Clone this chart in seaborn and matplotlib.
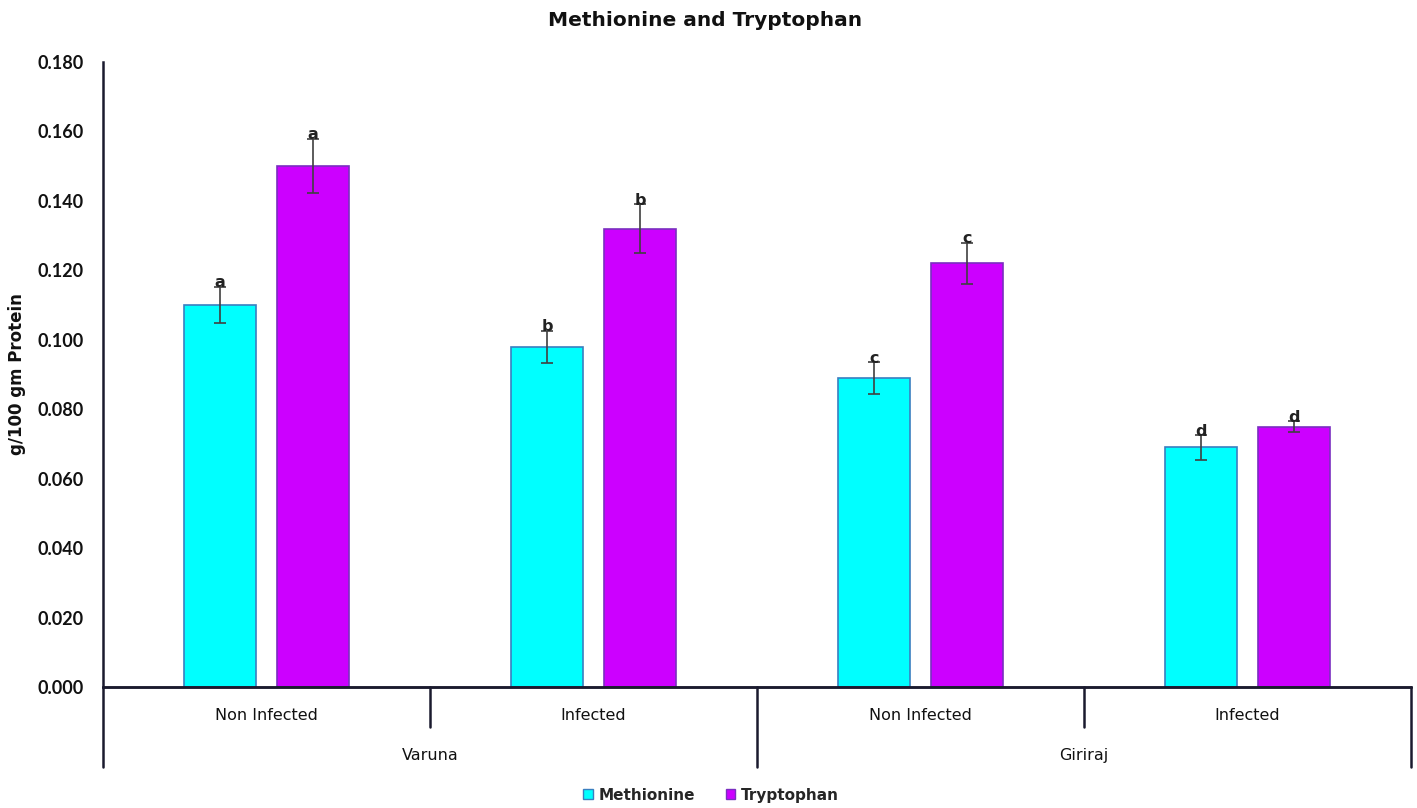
import pandas as pd
import matplotlib.pyplot as plt
import matplotlib.transforms as mtransforms
import seaborn as sns

# === Data ===
varieties = ["Varuna", "Giriraj"]
conditions = ["Non Infected", "Infected", "Non Infected", "Infected"]
group_ids = ["Varuna-NI", "Varuna-I", "Giriraj-NI", "Giriraj-I"]

methionine = [0.110, 0.098, 0.089, 0.069]
methionine_err = [0.0052, 0.0046, 0.0045, 0.0035]
methionine_letters = ["a", "b", "c", "d"]

tryptophan = [0.150, 0.132, 0.122, 0.075]
tryptophan_err = [0.0078, 0.0070, 0.0060, 0.0015]
tryptophan_letters = ["a", "b", "c", "d"]

yticks = [0.000, 0.020, 0.040, 0.060, 0.080, 0.100, 0.120, 0.140, 0.160, 0.180]

df = pd.DataFrame({
    "group": group_ids * 2,
    "amino": ["Methionine"] * 4 + ["Tryptophan"] * 4,
    "value": methionine + tryptophan,
    "err": methionine_err + tryptophan_err,
    "letter": methionine_letters + tryptophan_letters,
})

# === Plot ===
sns.set_theme(style="white")
plt.rcParams['font.family'] = ['DejaVu Sans']

fig = plt.figure(figsize=(14.17, 8.08), dpi=100)
ax = fig.add_axes([0.0727, 0.1498, 0.9231, 0.7735])

palette = {"Methionine": "#00FFFF", "Tryptophan": "#CC00FF"}
edges = {"Methionine": "#3A7FC0", "Tryptophan": "#7A2FC0"}

sns.barplot(data=df, x="group", y="value", hue="amino", order=group_ids,
            hue_order=["Methionine", "Tryptophan"], palette=palette, saturation=1,
            width=0.57, gap=0.22, errorbar=None, ax=ax, legend=True)

# bar edges, error bars and letters
for container, amino in zip(ax.containers, ["Methionine", "Tryptophan"]):
    sub = df[df["amino"] == amino].set_index("group").loc[group_ids]
    xs = []
    for patch in container:
        patch.set_edgecolor(edges[amino])
        patch.set_linewidth(1.2)
        xs.append(patch.get_x() + patch.get_width() / 2)
    ax.errorbar(xs, sub["value"], yerr=sub["err"], fmt="none",
                ecolor="#404040", elinewidth=1.2, capsize=4, capthick=1.2, zorder=5)
    for x, v, e, lab in zip(xs, sub["value"], sub["err"], sub["letter"]):
        ax.annotate(lab, (x, v + e), xytext=(0, 3), textcoords="offset points",
                    ha="center", va="center", fontsize=11.5, fontweight="bold",
                    color="#222222", zorder=6)

# y axis
ax.set_ylim(0, 0.18)
ax.set_xlim(-0.5, 3.5)
ax.set_yticks(yticks)
ax.set_yticklabels([f"{t:.3f}" for t in yticks], fontsize=13, fontweight="bold",
                   family=["Lato", "DejaVu Sans"], color="#111111")
ax.tick_params(axis="y", direction="in", length=5, width=1.5, color="black", pad=14)
ax.set_ylabel("g/100 gm Protein", fontsize=12, fontweight="bold", color="#111111")
ax.yaxis.set_label_coords(-0.059, 0.50)
ax.set_xlabel("")
ax.set_xticks([])

for side in ["top", "right"]:
    ax.spines[side].set_visible(False)
for side in ["left", "bottom"]:
    ax.spines[side].set_linewidth(1.8)
    ax.spines[side].set_color("#1a1a2e")

fig.text(0.4975, 0.975, "Methionine and Tryptophan", ha="center", va="center",
         fontsize=14.5, fontweight="bold", color="#111111")

# two-level category axis
trans = mtransforms.blended_transform_factory(ax.transData, ax.transAxes)
for i, cond in enumerate(conditions):
    ax.text(i, -0.045, cond, transform=trans, ha="center", va="center",
            fontsize=11.5, color="#111111")
for j, var in enumerate(varieties):
    ax.text(2 * j + 0.5, -0.109, var, transform=trans, ha="center", va="center",
            fontsize=11.5, color="#111111")
for x in [0.5, 2.5]:
    ax.plot([x, x], [0, -0.064], transform=trans, color="#1a1a2e", lw=1.8, clip_on=False)
for x in [-0.5, 1.5, 3.5]:
    ax.plot([x, x], [0, -0.128], transform=trans, color="#1a1a2e", lw=1.8, clip_on=False)
ax.plot([-0.5, 3.5], [0, 0], transform=trans, color="#1a1a2e", lw=1.8, clip_on=False)

# legend at the bottom
handles, labels = ax.get_legend_handles_labels()
leg = ax.legend(handles, labels, loc="center", bbox_to_anchor=(0.465, -0.173), ncol=2,
                frameon=False, handlelength=0.6, handleheight=0.6, handletextpad=0.4,
                columnspacing=2.0, prop={"weight": "bold", "size": 11})
for h, amino in zip(leg.legend_handles, labels):
    h.set_edgecolor(edges[amino])

plt.savefig("out.png", dpi=100)
